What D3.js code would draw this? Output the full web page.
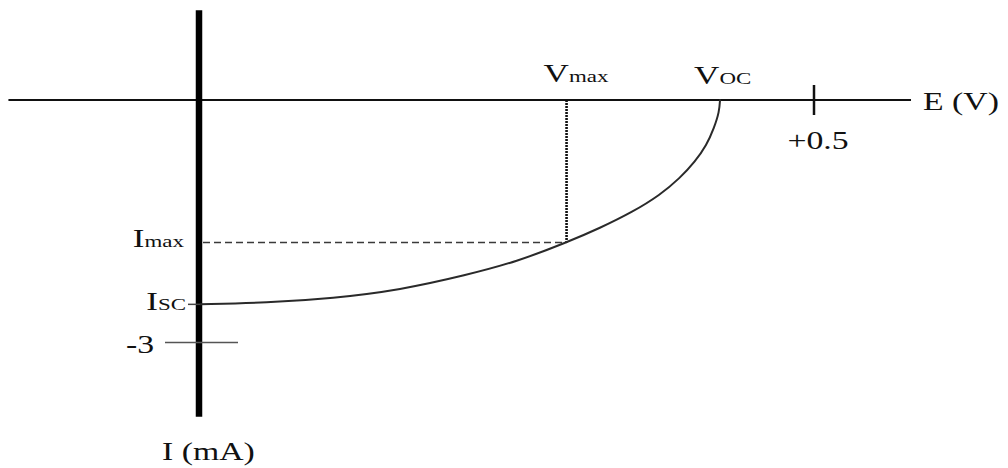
<!DOCTYPE html>
<html>
<head>
<meta charset="utf-8">
<script src="https://cdn.jsdelivr.net/npm/d3@7"></script>
<style>
  html, body { margin: 0; padding: 0; background: #fff; }
  svg { display: block; }
  text { font-family: "Liberation Serif", "Times New Roman", serif; fill: #111; }
</style>
</head>
<body>
<svg id="chart" width="1008" height="468"></svg>
<script>
// ---- data (E in volts, I in mA) ----
const voltage = [0, 0.0543, 0.1083, 0.1629, 0.2172, 0.2579, 0.2985, 0.3257, 0.3526, 0.3746, 0.3909, 0.4031, 0.4126, 0.4186, 0.4229, 0.4235];
const current = [-2.528, -2.508, -2.453, -2.351, -2.165, -2.000, -1.763, -1.584, -1.382, -1.175, -0.965, -0.763, -0.557, -0.346, -0.145, 0.01];
const xTicks = [0.5];
const xTickLabels = ["+0.5"];
const yTicks = [-3];
const yTickLabels = ["-3"];
const Vmax = 0.2985, Imax = -1.763, Isc = -2.528, Voc = 0.4235;
const xExtent = [-0.156, 0.579];
const yExtent = [1.11, -3.92];
const xAxisTitle = "E (V)";
const yAxisTitle = "I (mA)";

const svg = d3.select("#chart");
const x = d3.scaleLinear().domain([0, 0.5]).range([200, 814]);
const y = d3.scaleLinear().domain([0, -3]).range([100, 342.5]);
const SX = 1.35; // horizontal stretch of the lettering

function label(px, py, parts, anchor) {
  const g = svg.append("g").attr("transform", `translate(${px},${py}) scale(${SX},1)`);
  const t = g.append("text").attr("text-anchor", anchor || "start");
  parts.forEach(p => t.append("tspan").attr("font-size", p[1]).text(p[0]));
  return t;
}

// x axis
svg.append("line")
  .attr("x1", x(xExtent[0])).attr("x2", x(xExtent[1]))
  .attr("y1", y(0)).attr("y2", y(0))
  .attr("stroke", "#111").attr("stroke-width", 2);

// y axis (thick)
svg.append("line")
  .attr("x1", x(0) - 1).attr("x2", x(0) - 1)
  .attr("y1", y(yExtent[0])).attr("y2", y(yExtent[1]))
  .attr("stroke", "#000").attr("stroke-width", 6.5);

// x ticks
xTicks.forEach((v, i) => {
  svg.append("line")
    .attr("x1", x(v)).attr("x2", x(v))
    .attr("y1", y(0) - 15).attr("y2", y(0) + 15)
    .attr("stroke", "#111").attr("stroke-width", 2.5);
  label(x(v) + 4, y(0) + 49, [[xTickLabels[i], 25]], "middle");
});

// y ticks
yTicks.forEach((v, i) => {
  svg.append("line")
    .attr("x1", x(0) - 35).attr("x2", x(0) + 38)
    .attr("y1", y(v)).attr("y2", y(v))
    .attr("stroke", "#555").attr("stroke-width", 1.5);
  label(x(0) - 46, y(v) + 10, [[yTickLabels[i], 25]], "end");
});

// Isc small tick
svg.append("line")
  .attr("x1", x(0) - 12).attr("x2", x(0))
  .attr("y1", y(Isc)).attr("y2", y(Isc))
  .attr("stroke", "#444").attr("stroke-width", 1.5);

// Imax dashed
svg.append("line")
  .attr("x1", x(0) + 3).attr("x2", x(Vmax))
  .attr("y1", y(Imax)).attr("y2", y(Imax))
  .attr("stroke", "#3a3a3a").attr("stroke-width", 1.7)
  .attr("stroke-dasharray", "7,4");

// Vmax dotted
svg.append("line")
  .attr("x1", x(Vmax)).attr("x2", x(Vmax))
  .attr("y1", y(0)).attr("y2", y(Imax))
  .attr("stroke", "#111").attr("stroke-width", 2.6)
  .attr("stroke-dasharray", "2,1");

// I-V curve
const pts = voltage.map((v, i) => [v, current[i]]);
svg.append("path")
  .datum(pts)
  .attr("fill", "none")
  .attr("stroke", "#2a2a2a")
  .attr("stroke-width", 2)
  .attr("d", d3.line().x(d => x(d[0])).y(d => y(d[1])).curve(d3.curveBasis));

// labels
label(x(Vmax) - 23, 82, [["V", 26], ["max", 17]], "start");
label(x(Voc) - 26, 84, [["V", 26], ["OC", 17]], "start");
label(184, y(Imax) + 4, [["I", 26], ["max", 17]], "end");
label(186, y(Isc) + 6, [["I", 26], ["SC", 17]], "end");
label(923, 110, [[xAxisTitle, 25]], "start");
label(162, 460, [[yAxisTitle, 25]], "start");
</script>
</body>
</html>
